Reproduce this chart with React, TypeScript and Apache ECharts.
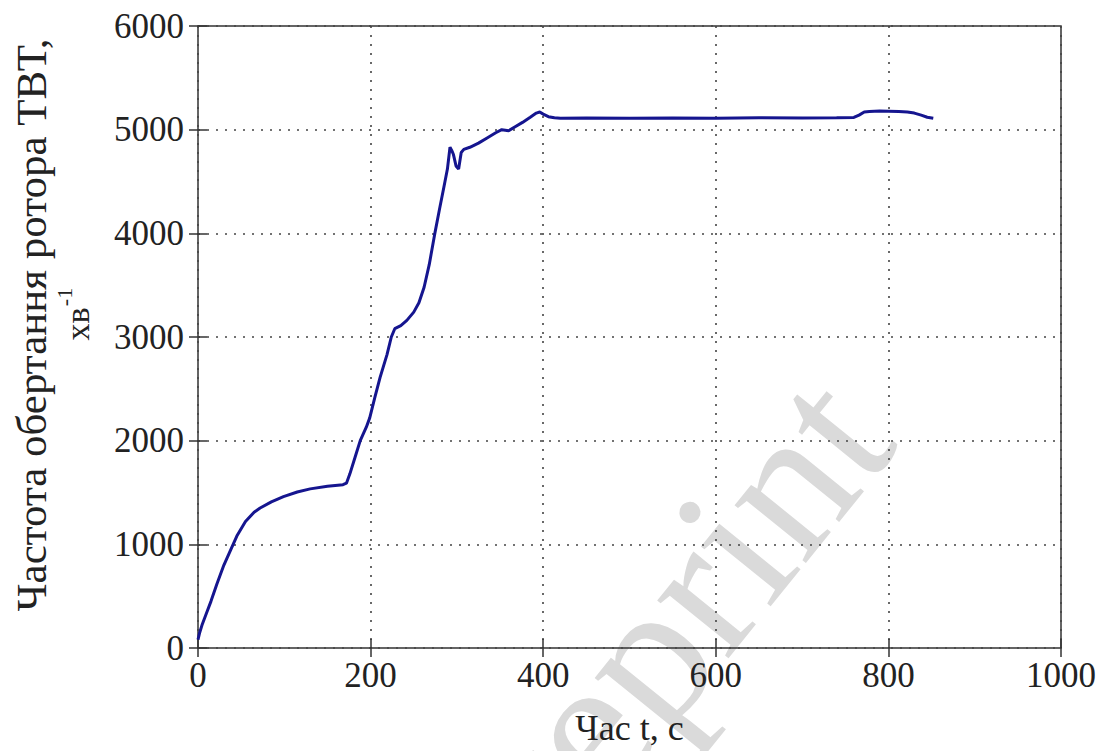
import React, { useEffect, useRef } from "react";
import * as echarts from "echarts";

// Time, s
const timeS = [
  0, 2, 5, 10, 15, 22, 30, 38, 45, 55, 65, 72, 85, 99, 115, 130, 150, 168, 172, 176,
  182, 188, 195, 199, 205, 211, 219, 224, 228, 235, 242, 250, 256, 262, 268, 274, 280, 285,
  289, 292, 294, 296, 299, 302, 305, 308, 315, 325, 335, 345, 352, 360, 368, 376, 385, 392,
  396, 400, 406, 413, 420, 450, 500, 550, 600, 650, 700, 740, 760, 766, 772, 778, 790, 800,
  812, 822, 830, 838, 845, 852,
];
// Rotor speed, min^-1
const rpm = [
  80, 150, 230, 340, 450, 620, 800, 950, 1080, 1220, 1310, 1350, 1410, 1460, 1505, 1535, 1560, 1575, 1590, 1680,
  1840, 2000, 2130, 2220, 2420, 2610, 2830, 3000, 3080, 3110, 3160, 3240, 3330, 3480, 3700, 3980, 4240, 4450,
  4620, 4830, 4800, 4760, 4650, 4620, 4780, 4810, 4830, 4870, 4920, 4970, 5000, 4990, 5030, 5070, 5120, 5160,
  5170, 5150, 5125, 5115, 5110, 5112, 5110, 5112, 5110, 5115, 5112, 5115, 5118, 5140, 5170, 5175, 5180, 5178,
  5175, 5170, 5160, 5140, 5120, 5110,
];

const xTitle = "Час t, с";
const yTitle = "Частота обертання ротора ТВТ,";
const yUnit = "хв";
const yUnitSup = "-1";
const watermark = "preprint";

const X_MIN = 0, X_MAX = 1000, X_STEP = 200;
const Y_MIN = 0, Y_MAX = 6000, Y_STEP = 1000;

const FONT = "'Liberation Serif', 'Times New Roman', serif";

export default function App() {
  const ref = useRef<HTMLDivElement>(null);
  useEffect(() => {
    if (!ref.current) return;
    const chart = echarts.init(ref.current, undefined, { renderer: "svg" });
    const data = timeS.map((t, i) => [t, rpm[i]]);
    const tickStyle = { color: "#333", width: 1.5 };
    const gridLine = { show: true, lineStyle: { type: [2, 7] as any, color: "#444", width: 1.6 } };
    const fmt = (v: number) => String(v);
    chart.setOption({
      animation: false,
      backgroundColor: "#ffffff",
      grid: {
        left: 198, top: 26, right: 47, bottom: 98,
        show: true, borderColor: "#333", borderWidth: 1.5, backgroundColor: "transparent",
      },
      xAxis: [
        {
          type: "value", min: X_MIN, max: X_MAX, interval: X_STEP, position: "bottom",
          axisLine: { show: false },
          axisTick: { show: true, inside: true, length: 9, lineStyle: tickStyle },
          axisLabel: { fontFamily: FONT, fontSize: 35, color: "#222", margin: 10, formatter: fmt },
          splitLine: gridLine,
          name: xTitle, nameLocation: "middle", nameGap: 62,
          nameTextStyle: { fontFamily: FONT, fontSize: 36, color: "#222" },
        },
        {
          type: "value", min: X_MIN, max: X_MAX, interval: X_STEP, position: "top",
          axisLine: { show: false },
          axisTick: { show: true, inside: true, length: 9, lineStyle: tickStyle },
          axisLabel: { show: false }, splitLine: { show: false },
        },
      ],
      yAxis: [
        {
          type: "value", min: Y_MIN, max: Y_MAX, interval: Y_STEP, position: "left",
          axisLine: { show: false },
          axisTick: { show: true, inside: true, length: 9, lineStyle: tickStyle },
          axisLabel: { fontFamily: FONT, fontSize: 35, color: "#222", margin: 14, formatter: fmt },
          splitLine: gridLine,
        },
        {
          type: "value", min: Y_MIN, max: Y_MAX, interval: Y_STEP, position: "right",
          axisLine: { show: false },
          axisTick: { show: true, inside: true, length: 9, lineStyle: tickStyle },
          axisLabel: { show: false }, splitLine: { show: false },
        },
      ],
      graphic: {
        elements: [
          {
            type: "text", x: 926, y: 466, rotation: (51 * Math.PI) / 180, z: -100, silent: true,
            style: {
              text: watermark, font: `200px ${FONT}`, fill: "#dadada",
              textAlign: "right", align: "right", textVerticalAlign: "bottom", verticalAlign: "bottom",
            },
          },
          {
            type: "text", x: 31, y: 325, rotation: Math.PI / 2,
            style: {
              text: yTitle, font: `43px ${FONT}`, fill: "#222",
              textAlign: "center", align: "center", textVerticalAlign: "middle", verticalAlign: "middle",
            },
          },
          {
            type: "text", x: 77, y: 324, rotation: Math.PI / 2,
            style: {
              text: yUnit, font: `34px ${FONT}`, fill: "#222",
              textAlign: "center", align: "center", textVerticalAlign: "middle", verticalAlign: "middle",
            },
          },
          {
            type: "text", x: 64, y: 297, rotation: Math.PI / 2,
            style: {
              text: yUnitSup, font: `22px ${FONT}`, fill: "#222",
              textAlign: "center", align: "center", textVerticalAlign: "middle", verticalAlign: "middle",
            },
          },
        ],
      },
      series: [
        {
          type: "line", xAxisIndex: 0, yAxisIndex: 0, data, showSymbol: false, symbol: "none",
          lineStyle: { color: "#15158f", width: 3 }, z: 5,
        },
      ],
    });
    return () => chart.dispose();
  }, []);
  return (
    <div
      ref={ref}
      style={{ position: "absolute", left: 0, top: 0, width: 1108, height: 751, background: "#fff" }}
    />
  );
}
